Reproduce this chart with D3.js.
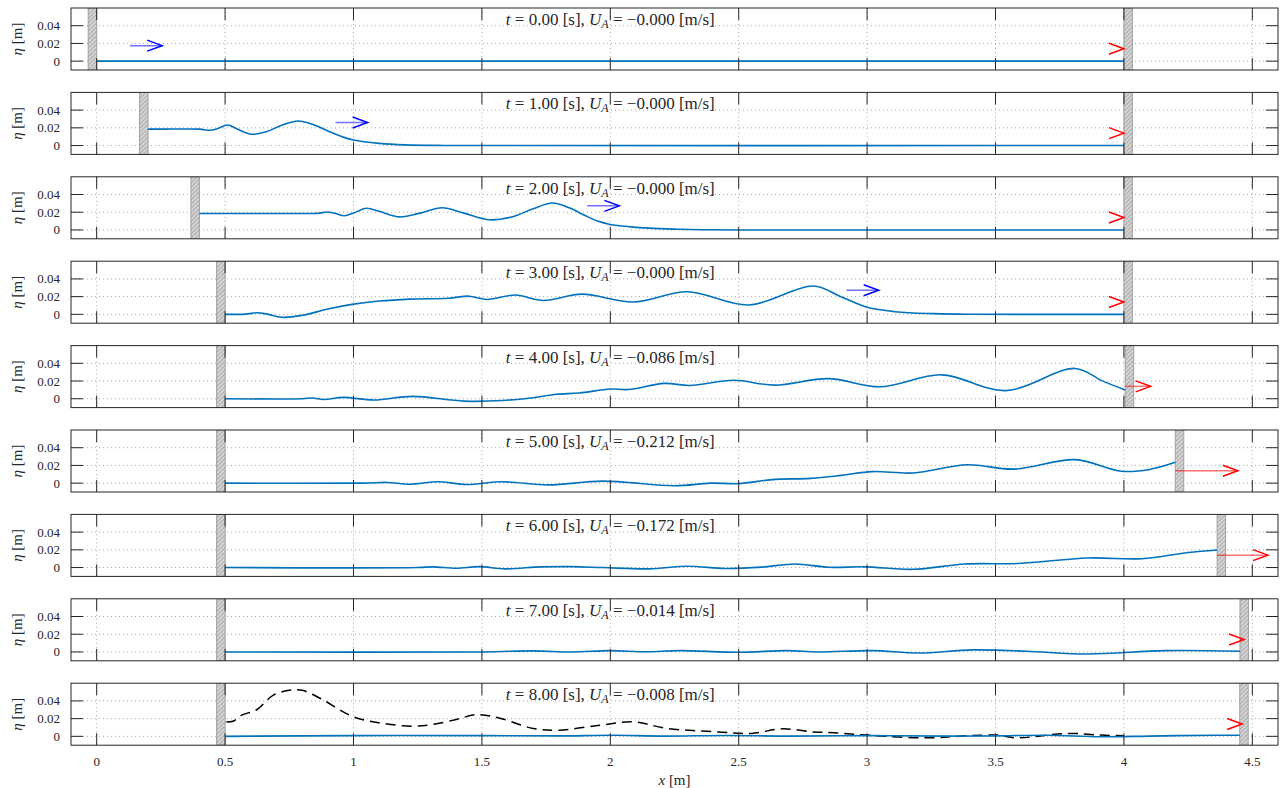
<!DOCTYPE html>
<html>
<head>
<meta charset="utf-8">
<script src="https://cdn.jsdelivr.net/npm/d3@7.9.0/dist/d3.min.js"></script>
<style>
  body { margin: 0; background: #fff; }
  text { font-family: "Liberation Serif", "DejaVu Serif", serif; fill: #262626; }
</style>
</head>
<body>
<svg id="chart" width="1280" height="788"></svg>
<script>
// snapshot times and paddle / absorber state
const times = [0, 1, 2, 3, 4, 5, 6, 7, 8];
const uA = [-0.000, -0.000, -0.000, -0.000, -0.086, -0.212, -0.172, -0.014, -0.008];
const paddleX = [0, 0.2, 0.4, 0.5, 0.5, 0.5, 0.5, 0.5, 0.5];          // left wall face
const absorberX = [4.0, 4.0, 4.0, 4.0, 4.005, 4.2, 4.363, 4.452, 4.451]; // right wall face

// blue arrow showing the wave front (first four snapshots)
const frontX = [0.13, 0.93, 1.91, 2.92];
const frontY = [0.0175, 0.026, 0.0272, 0.0272];

const xTicks = [0, 0.5, 1, 1.5, 2, 2.5, 3, 3.5, 4, 4.5];
const yTicks = [0, 0.02, 0.04];

// free surface eta(x) for every snapshot, [x, eta]
const surfT0 = [[0, 0], [4.0, 0]];
const surfT1 = [[0.2, 0.0185], [0.3, 0.0186], [0.4, 0.0185], [0.44, 0.0172], [0.47, 0.019], [0.51, 0.0232],
  [0.545, 0.019], [0.6, 0.0128], [0.66, 0.0155], [0.72, 0.023], [0.785, 0.0277], [0.84, 0.024], [0.9, 0.0165],
  [0.96, 0.0095], [1.0, 0.0062], [1.1, 0.0025], [1.2, 0.0008], [1.35, 0.0001], [1.5, 0], [4.0, 0]];
const surfT2 = [[0.4, 0.0185], [0.6, 0.0186], [0.8, 0.0186], [0.86, 0.0187], [0.9, 0.0203], [0.93, 0.0185],
  [0.965, 0.016], [1.0, 0.019], [1.05, 0.0245], [1.1, 0.021], [1.18, 0.0147], [1.26, 0.019], [1.345, 0.025],
  [1.43, 0.019], [1.53, 0.0115], [1.62, 0.015], [1.7, 0.024], [1.775, 0.0304], [1.84, 0.025], [1.9, 0.0165],
  [1.95, 0.01], [2.0, 0.0062], [2.08, 0.0035], [2.15, 0.002], [2.25, 0.0009], [2.36, 0.0003], [2.5, 0], [4.0, 0]];
const surfT3 = [[0.5, 0], [0.58, 0.0003], [0.625, 0.0018], [0.66, 0.0005], [0.72, -0.0033], [0.8, -0.0012],
  [0.9, 0.006], [1.0, 0.0115], [1.1, 0.015], [1.22, 0.0172], [1.37, 0.0182], [1.45, 0.0205], [1.52, 0.0168],
  [1.63, 0.0218], [1.74, 0.0157], [1.89, 0.0228], [2.09, 0.014], [2.3, 0.0255], [2.54, 0.0105], [2.79, 0.032],
  [2.9, 0.0196], [3.0, 0.008], [3.11, 0.003], [3.26, 0.0008], [3.4, 0.0001], [3.6, 0], [4.0, 0]];
const surfT4 = [[0.5, 0], [0.8, 0], [0.84, 0.0008], [0.886, -0.0008], [0.96, 0.0015], [1.08, -0.0015],
  [1.23, 0.0027], [1.43, -0.0027], [1.58, -0.002], [1.7, 0.0012], [1.79, 0.005], [1.88, 0.0065], [2.0, 0.011],
  [2.07, 0.0104], [2.21, 0.0173], [2.31, 0.015], [2.48, 0.0208], [2.64, 0.0154], [2.85, 0.0227], [3.05, 0.0135],
  [3.29, 0.027], [3.54, 0.0092], [3.81, 0.0342], [3.92, 0.0196], [4.005, 0.01]];
const surfT5 = [[0.5, 0], [1.04, 0], [1.13, 0.0008], [1.22, -0.0012], [1.33, 0.0015], [1.44, -0.0015],
  [1.58, 0.0015], [1.76, -0.002], [1.97, 0.0023], [2.25, -0.003], [2.39, 0.0], [2.5, -0.0005], [2.63, 0.004],
  [2.78, 0.0054], [2.9, 0.0088], [3.02, 0.013], [3.18, 0.0115], [3.39, 0.0208], [3.57, 0.0158], [3.81, 0.0265],
  [3.99, 0.0135], [4.1, 0.0155], [4.2, 0.0235]];
const surfT6 = [[0.5, 0], [1.25, 0], [1.31, 0.0008], [1.4, -0.0008], [1.49, 0.001], [1.59, -0.0015],
  [1.73, 0.0008], [1.85, 0.001], [1.97, 0.0], [2.15, -0.0015], [2.3, 0.0015], [2.45, -0.001], [2.59, 0.0005],
  [2.72, 0.004], [2.85, 0.0003], [2.99, 0.0008], [3.18, -0.002], [3.38, 0.004], [3.59, 0.0046], [3.86, 0.0108],
  [4.07, 0.01], [4.25, 0.017], [4.363, 0.0198]];
const surfT7 = [[0.5, 0], [1.5, 0], [1.7, 0.0012], [1.85, 0], [2.0, 0.0015], [2.14, 0.0002], [2.27, 0.0015],
  [2.5, -0.0004], [2.69, 0.0015], [2.81, 0], [3.02, 0.0015], [3.2, -0.0012], [3.41, 0.0023], [3.62, 0.0008],
  [3.86, -0.0023], [4.16, 0.0015], [4.452, 0.0008]];
const surfT8 = [[0.5, 0], [1.0, 0.0008], [1.5, 0.0008], [1.8, 0.0005], [2.01, 0.0012], [2.2, 0.0003],
  [2.45, 0.001], [2.7, 0.0002], [3.0, 0.0008], [3.3, 0.0003], [3.5, 0.0005], [3.7, 0.0013], [3.91, -0.0005],
  [4.1, 0.0003], [4.36, 0.0013], [4.451, 0.0012]];
// dashed reference surface in the last panel
const refT8 = [[0.505, 0.0164], [0.53, 0.017], [0.565, 0.024], [0.623, 0.03], [0.688, 0.0465], [0.76, 0.0523],
  [0.8, 0.052], [0.87, 0.043], [1.0, 0.022], [1.117, 0.0145], [1.233, 0.0115], [1.31, 0.0135], [1.4, 0.019],
  [1.48, 0.0245], [1.57, 0.0205], [1.7, 0.0089], [1.8, 0.007], [1.96, 0.0126], [2.09, 0.0164], [2.22, 0.009],
  [2.42, 0.005], [2.55, 0.0033], [2.67, 0.0085], [2.79, 0.005], [2.87, 0.004], [3.0, 0.0014], [3.23, -0.0017],
  [3.39, 0.0006], [3.51, 0.0014], [3.58, -0.0017], [3.78, 0.0033], [3.91, 0.0014], [4.0, 0.0006]];

const surfaces = [surfT0, surfT1, surfT2, surfT3, surfT4, surfT5, surfT6, surfT7, surfT8];

const svg = d3.select('#chart');
const left = 71, right = 1278, top0 = 8, step = 84.4, ph = 62;
const wallW = 0.033, arrowScale = 1.15, arrowY = 0.014;

const x = d3.scaleLinear().domain([-0.1, 4.6]).range([left, right]);

const defs = svg.append('defs');
const pat = defs.append('pattern')
  .attr('id', 'hatch').attr('patternUnits', 'userSpaceOnUse')
  .attr('width', 3).attr('height', 3).attr('patternTransform', 'rotate(45)');
pat.append('rect').attr('width', 3).attr('height', 3).attr('fill', '#d4d4d4');
pat.append('line').attr('x1', 0).attr('y1', 0).attr('x2', 0).attr('y2', 3)
  .attr('stroke', '#9a9a9a').attr('stroke-width', 1.4);

function arrow(g, x0, x1, yy, color) {
  g.append('line').attr('x1', x0).attr('x2', x1).attr('y1', yy).attr('y2', yy)
    .attr('stroke', color).attr('stroke-width', 1.5).attr('opacity', 0.55);
  g.append('path')
    .attr('d', `M${x1 - 15},${yy - 5.5}L${x1},${yy}L${x1 - 15},${yy + 5.5}`)
    .attr('fill', 'none').attr('stroke', color).attr('stroke-width', 1.5);
}

times.forEach((t, i) => {
  const top = top0 + i * step;
  const y = d3.scaleLinear().domain([-0.01, 0.06]).range([top + ph, top]);
  const g = svg.append('g');

  defs.append('clipPath').attr('id', 'clip' + i)
    .append('rect').attr('x', left).attr('y', top).attr('width', right - left).attr('height', ph);

  // grid
  g.selectAll('.gx').data(xTicks).join('line')
    .attr('x1', d => x(d)).attr('x2', d => x(d)).attr('y1', top).attr('y2', top + ph)
    .attr('stroke', '#a8a8a8').attr('stroke-width', 1).attr('stroke-dasharray', '1,3');
  g.selectAll('.gy').data(yTicks).join('line')
    .attr('x1', left).attr('x2', right).attr('y1', d => y(d)).attr('y2', d => y(d))
    .attr('stroke', '#a8a8a8').attr('stroke-width', 1).attr('stroke-dasharray', '1,3');

  const plot = g.append('g').attr('clip-path', `url(#clip${i})`);

  // walls
  plot.append('rect').attr('x', x(paddleX[i] - wallW)).attr('y', top)
    .attr('width', x(paddleX[i]) - x(paddleX[i] - wallW)).attr('height', ph)
    .attr('fill', 'url(#hatch)').attr('stroke', '#a0a0a0').attr('stroke-width', 1);
  plot.append('rect').attr('x', x(absorberX[i])).attr('y', top)
    .attr('width', x(absorberX[i] + wallW) - x(absorberX[i])).attr('height', ph)
    .attr('fill', 'url(#hatch)').attr('stroke', '#a0a0a0').attr('stroke-width', 1);

  const line = d3.line().x(d => x(d[0])).y(d => y(d[1])).curve(d3.curveCatmullRom.alpha(0.5));

  if (i === 8) {
    plot.append('path').attr('d', line(refT8)).attr('fill', 'none')
      .attr('stroke', '#000').attr('stroke-width', 1.5).attr('stroke-dasharray', '10,6');
  }
  plot.append('path').attr('d', line(surfaces[i])).attr('fill', 'none')
    .attr('stroke', '#0072BD').attr('stroke-width', 1.6);

  // arrows
  if (i < frontX.length) {
    arrow(plot, x(frontX[i]), x(frontX[i] + 0.125), y(frontY[i]), '#0000ff');
  }
  const tip = absorberX[i] + Math.abs(uA[i]) * arrowScale;
  arrow(plot, x(absorberX[i]), x(tip), y(arrowY), '#ff0000');

  // box and ticks
  g.append('rect').attr('x', left).attr('y', top).attr('width', right - left).attr('height', ph)
    .attr('fill', 'none').attr('stroke', '#262626').attr('stroke-width', 1);
  xTicks.forEach(d => {
    g.append('line').attr('x1', x(d)).attr('x2', x(d)).attr('y1', top).attr('y2', top + 12)
      .attr('stroke', '#262626');
    g.append('line').attr('x1', x(d)).attr('x2', x(d)).attr('y1', top + ph - 12).attr('y2', top + ph)
      .attr('stroke', '#262626');
  });
  yTicks.forEach(d => {
    g.append('line').attr('x1', left).attr('x2', left + 12).attr('y1', y(d)).attr('y2', y(d))
      .attr('stroke', '#262626');
    g.append('line').attr('x1', right - 12).attr('x2', right).attr('y1', y(d)).attr('y2', y(d))
      .attr('stroke', '#262626');
    g.append('text').attr('x', 60).attr('y', y(d)).attr('dy', '0.35em')
      .attr('text-anchor', 'end').attr('font-size', 13)
      .text(d === 0 ? '0' : d.toFixed(2));
  });

  // y label
  const yl = g.append('text')
    .attr('transform', `translate(22,${top + ph / 2}) rotate(-90)`)
    .attr('text-anchor', 'middle').attr('font-size', 15);
  yl.append('tspan').attr('font-style', 'italic').text('η');
  yl.append('tspan').text(' [m]');

  // title
  const tt = g.append('text').attr('x', x(2)).attr('y', top + 17)
    .attr('text-anchor', 'middle').attr('font-size', 17);
  tt.append('tspan').attr('font-style', 'italic').text('t');
  tt.append('tspan').text(` = ${t.toFixed(2)} [s], `);
  tt.append('tspan').attr('font-style', 'italic').text('U');
  tt.append('tspan').attr('font-style', 'italic').attr('font-size', 12).attr('dy', 3).text('A');
  tt.append('tspan').attr('dy', -3).text(` = \u2212${Math.abs(uA[i]).toFixed(3)} [m/s]`);

  if (i === 8) {
    g.selectAll('.xl').data(xTicks).join('text')
      .attr('x', d => x(d)).attr('y', top + ph + 21)
      .attr('text-anchor', 'middle').attr('font-size', 13)
      .text(d => d);
    const xl = g.append('text').attr('x', x(2.25)).attr('y', top + ph + 40)
      .attr('text-anchor', 'middle').attr('font-size', 15);
    xl.append('tspan').attr('font-style', 'italic').text('x');
    xl.append('tspan').text(' [m]');
  }
});
</script>
</body>
</html>
